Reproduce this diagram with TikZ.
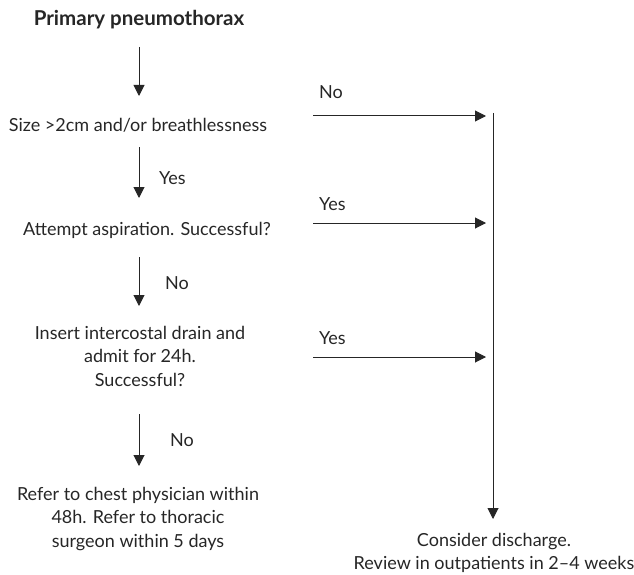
\documentclass[tikz,border=0pt]{standalone}
\usepackage{fontspec}
\setmainfont{Lato}
\usetikzlibrary{arrows.meta}
\begin{document}
\begin{tikzpicture}[x=1pt,y=-1pt,
  txt/.style={font=\fontsize{18}{23.5}\selectfont, align=center, inner sep=0pt, text=black!85},
  arr/.style={-{Triangle[width=11pt,length=11pt]}, line width=1pt, black!85},
  lbl/.style={font=\fontsize{18}{20}\selectfont, inner sep=0pt, anchor=west, text=black!85}]
\useasboundingbox (0,0) rectangle (634,575);
\node[txt, font=\bfseries\fontsize{20.5}{22}\selectfont] (title) at (139,20) {Primary pneumothorax};
\node[txt] (size) at (138,125) {Size >2cm and/or breathlessness};
\node[txt] (asp) at (147,230) {Attempt aspiration. Successful?};
\node[txt] (drain) at (140,356) {Insert intercostal drain and\\admit for 24h.\\Successful?};
\node[txt] (refer) at (138,519) {Refer to chest physician within\\48h. Refer to thoracic\\surgeon within 5 days};
\node[txt] (dis) at (494,553) {Consider discharge.\\Review in outpatients in 2--4 weeks};
% left column arrows
\coordinate (a1s) at (139,47); \coordinate (a1e) at (139,96);
\coordinate (a2s) at (139,147); \coordinate (a2e) at (139,198);
\coordinate (a3s) at (139,257); \coordinate (a3e) at (139,306);
\coordinate (a4s) at (139,414); \coordinate (a4e) at (139,466);
\draw[arr] (a1s) -- (a1e);
\draw[arr] (a2s) -- (a2e);
\draw[arr] (a3s) -- (a3e);
\draw[arr] (a4s) -- (a4e);
\node[lbl] (y1) at (159,178) {Yes};
\node[lbl] (n1) at (165,283) {No};
\node[lbl] (n2) at (170,440) {No};
% right arrows
\coordinate (vt) at (493,113); \coordinate (vb) at (493,519);
\coordinate (r1s) at (313,116); \coordinate (r1e) at (486,116);
\coordinate (r2s) at (313,223); \coordinate (r2e) at (486,223);
\coordinate (r3s) at (313,357); \coordinate (r3e) at (486,357);
\draw[arr] (r1s) -- (r1e);
\draw[arr] (r2s) -- (r2e);
\draw[arr] (r3s) -- (r3e);
\node[lbl] (n0) at (319,92) {No};
\node[lbl] (y2) at (319,204) {Yes};
\node[lbl] (y3) at (319,338) {Yes};
\draw[arr] (vt) -- (vb);
\end{tikzpicture}
\end{document}
